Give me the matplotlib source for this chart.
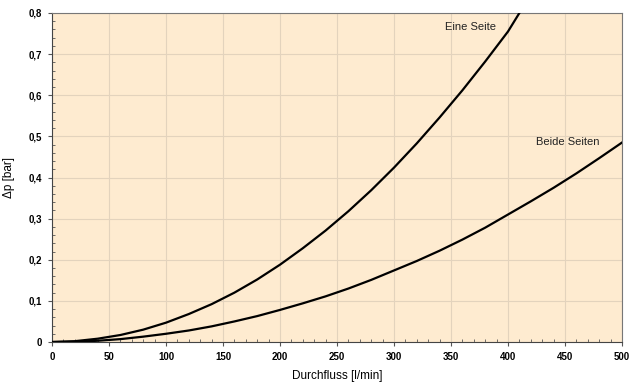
import matplotlib
matplotlib.use("Agg")
import matplotlib.pyplot as plt
from matplotlib.ticker import MultipleLocator, FuncFormatter

plt.rcParams['font.family'] = ['Liberation Sans', 'DejaVu Sans']

# Durchfluss [l/min] -> Δp [bar]
flow_eine = [0, 20, 40, 60, 80, 100, 120, 140, 160, 180, 200, 220, 240, 260, 280,
             300, 320, 340, 360, 380, 400, 410]
dp_eine = [0, 0.002, 0.008, 0.017, 0.030, 0.047, 0.068, 0.092, 0.120, 0.152, 0.188,
           0.228, 0.271, 0.318, 0.369, 0.424, 0.483, 0.546, 0.612, 0.682, 0.755, 0.80]

flow_beide = [0, 20, 40, 60, 80, 100, 120, 140, 160, 180, 200, 220, 240, 260, 280,
              300, 320, 340, 360, 380, 400, 420, 440, 460, 480, 500]
dp_beide = [0, 0.0005, 0.003, 0.007, 0.013, 0.02, 0.028, 0.038, 0.05, 0.063, 0.078,
            0.094, 0.111, 0.13, 0.151, 0.174, 0.197, 0.222, 0.249, 0.278, 0.31, 0.342,
            0.375, 0.41, 0.447, 0.485]

fig = plt.figure(figsize=(6.3, 3.85), dpi=100)
ax = fig.add_axes([52 / 630, 43 / 385, 570 / 630, 329 / 385])
ax.set_facecolor('#feebd0')

ax.plot(flow_eine, dp_eine, color='black', linewidth=1.6, zorder=3)
ax.plot(flow_beide, dp_beide, color='black', linewidth=1.6, zorder=3)

ax.text(367, 0.766, "Eine Seite", fontsize=8, ha='center', va='center', color='#222222')
ax.text(452, 0.487, "Beide Seiten", fontsize=8, ha='center', va='center', color='#222222')

ax.set_xlim(0, 500)
ax.set_ylim(0, 0.8)
ax.xaxis.set_major_locator(MultipleLocator(50))
ax.xaxis.set_minor_locator(MultipleLocator(10))
ax.yaxis.set_major_locator(MultipleLocator(0.1))
ax.yaxis.set_minor_locator(MultipleLocator(0.02))
ax.yaxis.set_major_formatter(FuncFormatter(lambda v, p: "0" if abs(v) < 1e-9 else f"{v:.1f}".replace('.', ',')))

ax.grid(True, which='major', color='#e3d3bd', linewidth=0.8, zorder=0)
ax.set_axisbelow(True)

ax.tick_params(which='major', direction='out', length=3, width=0.8, color='#555555',
               labelsize=7, pad=4)
ax.tick_params(which='minor', direction='in', length=2.5, width=0.6, color='#555555')
for lab in ax.get_xticklabels() + ax.get_yticklabels():
    lab.set_fontweight('bold')

for s in ax.spines.values():
    s.set_color('#777777')
    s.set_linewidth(0.8)
ax.spines['left'].set_color('#444444')
ax.spines['bottom'].set_color('#444444')

ax.set_xlabel("Durchfluss [l/min]", fontsize=8.5, labelpad=6)
ax.set_ylabel("Δp [bar]", fontsize=8.5, labelpad=10)

fig.savefig("out.png", dpi=100)
